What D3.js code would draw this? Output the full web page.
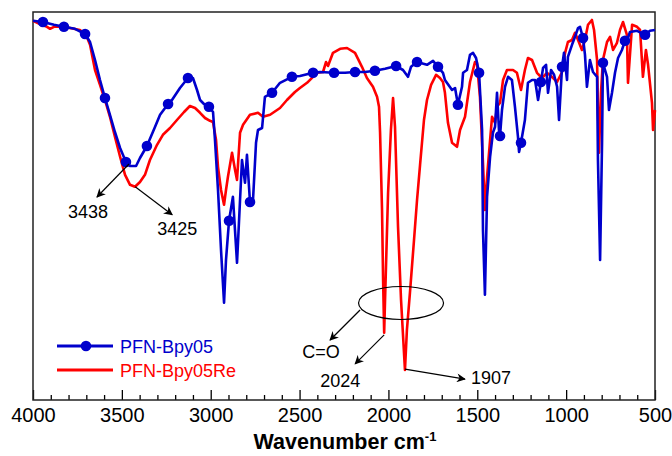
<!DOCTYPE html>
<html>
<head>
<meta charset="utf-8">
<script src="https://cdn.jsdelivr.net/npm/d3@7"></script>
<style>
  html, body { margin: 0; padding: 0; background: #fff; }
  svg { display: block; font-family: "Liberation Sans", Arial, sans-serif; }
</style>
</head>
<body>
<svg id="chart" width="672" height="456"></svg>
<script>
// ---- data (wavenumber cm-1, transmittance a.u.) ----
const seriesNames = ["PFN-Bpy05", "PFN-Bpy05Re"];
const seriesColors = ["#0000cc", "#ff0000"];

const bpy05Wavenumber = [4000,3944,3882,3826,3764,3707,3679,3651,3623,3595,3567,3539,3510,3477,3454,3420,3398,3359,3313,3285,3240,3218,3173,3128,3100,3077,3060,3038,3010,2987,2976,2959,2942,2925,2914,2897,2875,2852,2835,2824,2807,2796,2779,2762,2745,2734,2711,2695,2655,2610,2543,2498,2424,2385,2306,2244,2188,2132,2076,2019,1957,1918,1890,1873,1839,1783,1749,1721,1693,1682,1642,1625,1609,1586,1580,1558,1541,1524,1507,1490,1473,1468,1457,1445,1428,1412,1400,1389,1378,1372,1361,1344,1327,1305,1288,1271,1265,1254,1232,1215,1192,1175,1158,1142,1130,1113,1102,1085,1068,1051,1040,1023,1012,995,990,967,950,933,922,905,894,883,866,849,826,821,809,798,793,770,759,742,725,708,686,669,652,641,601,556,528,500];
const bpy05T = [94.8,94.5,93.8,93.3,92.8,91.5,89.5,85,80,75.5,71.3,67,63,59.5,58.5,58.5,60.5,63.5,68.3,71.3,74,75,78,80.5,80.5,77.5,75,74,73.3,72,65,52.5,37.5,24.3,35,44.8,50.8,34.3,50,60,54.3,61.3,49.5,50,64.3,67.5,68,75.8,76.8,79.3,80.8,81,81.8,82,81.8,81.8,82,82,82.3,82.8,83.5,82.5,80.8,83.3,84.5,83.8,84.8,83.3,81.8,80,77.5,78,73.8,78.3,81.8,82.5,86.3,86.8,85.5,81.8,67.5,42.5,26.3,50.8,60.8,66.8,68.3,76.8,67.5,66,72.5,78.3,80.8,80,73.3,65.8,62,64.3,70,79.3,80,80,75,79.5,83,83.8,76.8,82.5,81.3,78.3,70,83.3,86.8,80,85.8,88.8,90.8,93,93.3,90.5,86.3,78.3,85,82,80.8,60,35,64.3,84.3,80.8,72.5,76.8,81.8,85.5,87.5,89.8,90.5,92,92.3,91.3,92.3,92.5];
const bpy05MarkerWavenumber = [3944,3826,3707,3595,3477,3359,3240,3128,3010,2897,2779,2655,2543,2424,2306,2188,2076,1957,1839,1721,1609,1490,1372,1254,1142,1023,905,793,669,556];

const bpy05ReWavenumber = [4000,3961,3921,3904,3882,3848,3792,3736,3702,3679,3651,3623,3595,3567,3539,3510,3482,3454,3426,3398,3370,3342,3302,3269,3229,3190,3150,3117,3088,3060,3032,3004,2987,2970,2959,2942,2925,2914,2903,2880,2863,2852,2835,2818,2779,2734,2706,2666,2610,2571,2526,2498,2458,2402,2368,2351,2340,2312,2272,2233,2188,2149,2121,2087,2064,2053,2047,2036,2030,2024,2019,2002,1986,1974,1963,1946,1929,1907,1896,1879,1856,1839,1822,1800,1783,1760,1732,1710,1693,1682,1665,1642,1614,1597,1569,1541,1513,1502,1485,1468,1457,1445,1428,1417,1400,1389,1372,1355,1333,1299,1277,1254,1232,1215,1192,1164,1136,1108,1080,1051,1023,1006,990,967,950,933,911,894,877,855,843,826,821,815,804,793,770,753,736,714,697,680,658,652,629,601,584,568,551,539,517,511,500];
const bpy05ReT = [94.8,94,93.3,92.8,93.3,93.3,93,92.5,91.3,88.8,82.5,78.8,75,70.8,65.8,60.8,56.3,53.8,53.3,54.5,56.3,60,63.8,66.3,68,70,72,73.5,73,71.8,70.5,69.8,69.5,65,58.3,52.5,48.8,52.5,55.8,61.8,57.5,55,66.8,68.8,71.3,71.8,70.8,71.3,73,75,77,78,79.3,81.8,82,84.5,83.5,86.8,87.8,88,86.8,83.3,80.5,78.3,75.8,73.3,66.8,47.5,30,16.8,25,51.8,67.5,75.5,68.3,43.3,25,7.5,17.5,26.8,40,50,58.8,70,75,78.8,81.3,80.5,79.5,76.8,69.3,64.3,63.3,67.5,70.8,79.5,84.5,84.3,75.8,59.3,47.5,55.8,65,70.8,69.3,73.3,74.3,80,82.5,82.5,81.8,77.5,82.5,85.5,85,81.8,80.5,81.8,80.8,79.5,82,86.8,89.5,90,91.8,90,87.5,90,93.8,95,92.5,85,72.5,61.8,76.8,85,89.5,90.8,87.5,89.3,92.5,94.5,91.3,79.3,93.8,93.3,92.5,80.8,87.5,83.8,74.3,67.5,72.5];

const majorTicks = [4000,3500,3000,2500,2000,1500,1000,500];
const minorTicks = d3.range(4000, 499, -100).filter(v => v % 500 !== 0);
const xTitle = "Wavenumber cm";
const xTitleSup = "-1";

// annotations: anchor in data units, offsets in px
const annotations = [
  {text: "3438", w: 3460, t: 59,  end: [-32, 33], label: [-41, 54]},
  {text: "3425", w: 3425, t: 53.3, end: [37, 28], label: [42, 48]},
  {text: "2024", w: 2024, t: 16.3, end: [-29, 29], label: [-44, 52]},
  {text: "1907", w: 1907, t: 7.7, end: [60, 10], label: [86, 15]}
];
const carbonyl = {text: "C=O", w: 1929, t: 24.25, rx: 42.5, ry: 16.5, start: [-41, 7], end: [-71, 37], label: [-80, 55]};

// ---- drawing ----
const svg = d3.select("#chart");
const m = {left: 33, right: 655, top: 12, bottom: 400};
const x = d3.scaleLinear().domain([4000, 500]).range([m.left, m.right]);
const y = d3.scaleLinear().domain([0, 97]).range([m.bottom, m.top]);

const defs = svg.append("defs");
defs.append("marker").attr("id", "arrow").attr("viewBox", "0 0 10 10")
  .attr("refX", 9).attr("refY", 5).attr("markerWidth", 10).attr("markerHeight", 9)
  .attr("markerUnits", "userSpaceOnUse").attr("orient", "auto")
  .append("path").attr("d", "M0,0 L10,5 L0,10 L3,5 Z").attr("fill", "#000");

// axes
const axMajor = d3.axisBottom(x).tickValues(majorTicks).tickSize(-10).tickSizeOuter(0).tickPadding(8).tickFormat(d3.format("d"));
const gx = svg.append("g").attr("transform", `translate(0,${m.bottom})`).call(axMajor);
gx.selectAll("text").attr("font-size", 20).attr("fill", "#000").attr("font-family", "Liberation Sans, Arial, sans-serif");
gx.selectAll("line").attr("stroke", "#000").attr("stroke-width", 1.3);
gx.select(".domain").remove();
const axMinor = d3.axisBottom(x).tickValues(minorTicks).tickSize(-5).tickSizeOuter(0).tickFormat("");
const gm = svg.append("g").attr("transform", `translate(0,${m.bottom})`).call(axMinor);
gm.selectAll("line").attr("stroke", "#000").attr("stroke-width", 1.3);
gm.select(".domain").remove();

// frame
svg.append("rect").attr("x", m.left).attr("y", m.top)
  .attr("width", m.right - m.left).attr("height", m.bottom - m.top)
  .attr("fill", "none").attr("stroke", "#222").attr("stroke-width", 1.5);

// title
const title = svg.append("text").attr("x", (m.left + m.right) / 2 + 1).attr("y", 449)
  .attr("text-anchor", "middle").attr("font-size", 21.5).attr("font-weight", "bold").attr("fill", "#000");
title.append("tspan").text(xTitle);
title.append("tspan").attr("font-size", 13).attr("dy", -8).text(xTitleSup);

// lines
const line = d3.line().x(d => x(d[0])).y(d => y(d[1]));
const blueData = bpy05Wavenumber.map((w, i) => [w, bpy05T[i]]);
const redData = bpy05ReWavenumber.map((w, i) => [w, bpy05ReT[i]]);

svg.append("path").datum(redData).attr("d", line).attr("fill", "none")
  .attr("stroke", seriesColors[1]).attr("stroke-width", 2.6).attr("stroke-linejoin", "round");
svg.append("path").datum(blueData).attr("d", line).attr("fill", "none")
  .attr("stroke", seriesColors[0]).attr("stroke-width", 2.6).attr("stroke-linejoin", "round");
svg.append("g").selectAll("circle")
  .data(blueData.filter(d => bpy05MarkerWavenumber.includes(d[0])))
  .join("circle").attr("cx", d => x(d[0])).attr("cy", d => y(d[1])).attr("r", 5.3)
  .attr("fill", seriesColors[0]);

// annotations
const ga = svg.append("g");
annotations.forEach(a => {
  const ax = x(a.w), ay = y(a.t);
  ga.append("line").attr("x1", ax).attr("y1", ay).attr("x2", ax + a.end[0]).attr("y2", ay + a.end[1])
    .attr("stroke", "#000").attr("stroke-width", 1.2).attr("marker-end", "url(#arrow)");
  ga.append("text").attr("x", ax + a.label[0]).attr("y", ay + a.label[1]).attr("text-anchor", "middle")
    .attr("font-size", 18).attr("fill", "#000").text(a.text);
});
{
  const cx = x(carbonyl.w), cy = y(carbonyl.t);
  ga.append("ellipse").attr("cx", cx).attr("cy", cy).attr("rx", carbonyl.rx).attr("ry", carbonyl.ry)
    .attr("fill", "none").attr("stroke", "#000").attr("stroke-width", 1.2);
  ga.append("line").attr("x1", cx + carbonyl.start[0]).attr("y1", cy + carbonyl.start[1])
    .attr("x2", cx + carbonyl.end[0]).attr("y2", cy + carbonyl.end[1])
    .attr("stroke", "#000").attr("stroke-width", 1.2).attr("marker-end", "url(#arrow)");
  ga.append("text").attr("x", cx + carbonyl.label[0]).attr("y", cy + carbonyl.label[1]).attr("text-anchor", "middle")
    .attr("font-size", 18).attr("fill", "#000").text(carbonyl.text);
}

// legend
const lg = svg.append("g").attr("transform", "translate(57,346)");
seriesNames.forEach((name, i) => {
  const gy = i * 24;
  lg.append("line").attr("x1", 0).attr("x2", 56).attr("y1", gy).attr("y2", gy)
    .attr("stroke", seriesColors[i]).attr("stroke-width", 3);
  if (i === 0) lg.append("circle").attr("cx", 29).attr("cy", gy).attr("r", 5.3).attr("fill", seriesColors[i]);
  lg.append("text").attr("x", 63).attr("y", gy + 6.5).attr("font-size", 18).attr("fill", seriesColors[i]).text(name);
});
</script>
</body>
</html>
